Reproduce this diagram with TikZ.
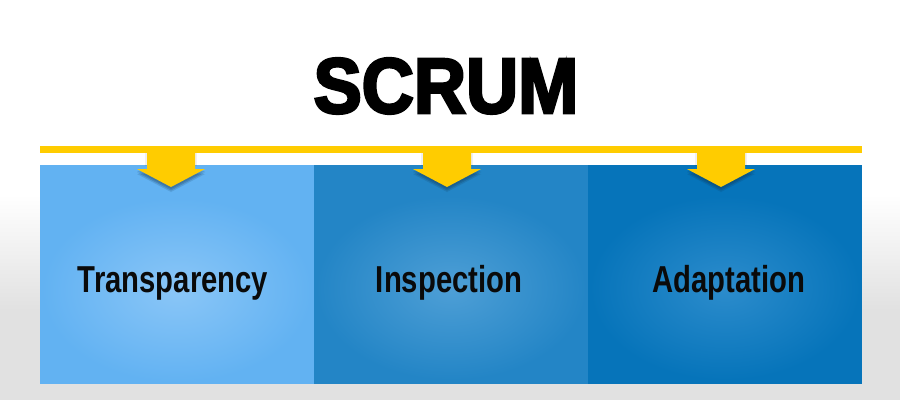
\documentclass[tikz,border=0pt]{standalone}
\usepackage{fontspec}
\newfontfamily\titlefont[FakeBold=3.4,FakeStretch=0.92]{Liberation Sans Bold}
\newfontfamily\boxfont[FakeStretch=0.78]{Liberation Sans Bold}
\definecolor{ylw}{HTML}{FFCC00}
\definecolor{bgray}{HTML}{E1E1E1}
\definecolor{baseA}{HTML}{62B2F2}
\definecolor{lightA}{HTML}{8AC6F7}
\definecolor{baseB}{HTML}{2385C6}
\definecolor{lightB}{HTML}{4E9FD6}
\definecolor{baseC}{HTML}{0674BA}
\definecolor{lightC}{HTML}{2C8CCC}
\definecolor{txt}{HTML}{0A0A0A}
\definecolor{shd}{HTML}{10304A}
\tikzset{
  boxlabel/.style={anchor=base, inner sep=0pt, text=txt, font=\boxfont\fontsize{37.5bp}{40bp}\selectfont},
  panel/.style={minimum width=274bp, minimum height=219bp, inner sep=0pt, draw=none}
}
\newcommand{\downarrowshape}[1]{%
  \foreach \s/\o in {2.0/0.18,3.5/0.2,5.0/0.15}{
    \fill[shd, opacity=\o] (#1-34,169+\s) -- (#1+34,169+\s) -- (#1,187+\s) -- cycle;
  }
  \fill[black, opacity=0.06] (#1-26,153) rectangle (#1+26,166);
  \fill[ylw] (#1-24,150) -- (#1+24,150) -- (#1+24,169) -- (#1+34,169) -- (#1,187)
             -- (#1-34,169) -- (#1-24,169) -- cycle;
}
\begin{document}
\begin{tikzpicture}[x=1bp,y=-1bp]
\useasboundingbox (0,0) rectangle (900,400);
% background
\fill[white] (0,0) rectangle (900,400);
\shade[top color=white, bottom color=bgray] (0,195) rectangle (900,310);
\fill[bgray] (0,310) rectangle (900,400);
% panels
\node[panel, fill=baseA] (pA) at (177,274.5) {};
\node[panel, fill=baseB] (pB) at (451,274.5) {};
\node[panel, fill=baseC] (pC) at (725,274.5) {};
\shade[inner color=lightA, outer color=baseA] (177,290) ellipse [x radius=135, y radius=92];
\shade[inner color=lightB, outer color=baseB] (451,288) ellipse [x radius=135, y radius=92];
\shade[inner color=lightC, outer color=baseC] (725,288) ellipse [x radius=135, y radius=92];
% yellow bar
\fill[ylw] (40,146) rectangle (862,153);
\coordinate (barL) at (40,149.5);
\coordinate (barR) at (862,149.5);
% arrows
\downarrowshape{171}
\downarrowshape{447}
\downarrowshape{721}
% title
\node[anchor=base, inner sep=0pt, font=\titlefont\fontsize{78.5bp}{82bp}\selectfont, text=black] (title) at (446,113) {SCRUM};
% labels
\node[boxlabel] (tA) at (173,292) {Transparency};
\node[boxlabel] (tB) at (449,292) {Inspection};
\node[boxlabel] (tC) at (729,292) {Adaptation};
\end{tikzpicture}
\end{document}
